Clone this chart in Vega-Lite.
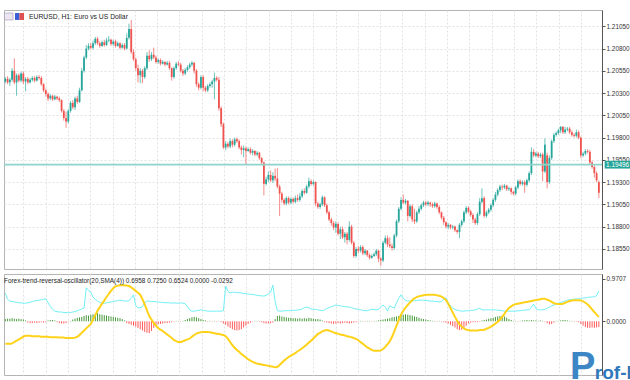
{
"$schema":"https://vega.github.io/schema/vega-lite/v6.json",
"padding":{"left":0,"top":9,"right":0,"bottom":0},
"background":"white",
"spacing":3,
"config":{"view":{"stroke":"#b4b4b4","strokeWidth":1},"axis":{"labelFont":"Liberation Sans","labelFontSize":6.4,"labelColor":"#333","gridColor":"#e2e2e2","gridDash":[2,2],"tickColor":"#555","domainColor":"#555","tickSize":3,"labelPadding":1,"labelOverlap":false,"labelFlush":false,"labelBound":false}},
"data":{"values":[
{"i":0,"o":1.2043,"h":1.2048,"l":1.2041,"c":1.2046,"a":0.64,"b":-0.51,"d":0.05},
{"i":1,"o":1.2046,"h":1.2049,"l":1.2040,"c":1.2042,"a":0.50,"b":-0.51,"d":0.06},
{"i":2,"o":1.2042,"h":1.2047,"l":1.2038,"c":1.2045,"a":0.46,"b":-0.51,"d":0.06},
{"i":3,"o":1.2045,"h":1.2058,"l":1.2043,"c":1.2055,"a":0.45,"b":-0.50,"d":0.07},
{"i":4,"o":1.2055,"h":1.2069,"l":1.2040,"c":1.2042,"a":0.44,"b":-0.47,"d":0.06},
{"i":5,"o":1.2042,"h":1.2052,"l":1.2027,"c":1.2050,"a":0.43,"b":-0.44,"d":0.05},
{"i":6,"o":1.2050,"h":1.2052,"l":1.2042,"c":1.2044,"a":0.42,"b":-0.41,"d":0.06},
{"i":7,"o":1.2044,"h":1.2054,"l":1.2042,"c":1.2052,"a":0.42,"b":-0.38,"d":0.05},
{"i":8,"o":1.2052,"h":1.2054,"l":1.2040,"c":1.2043,"a":0.41,"b":-0.35,"d":0.04},
{"i":9,"o":1.2043,"h":1.2048,"l":1.2032,"c":1.2046,"a":0.41,"b":-0.33,"d":0.02},
{"i":10,"o":1.2046,"h":1.2048,"l":1.2040,"c":1.2042,"a":0.42,"b":-0.33,"d":-0.03},
{"i":11,"o":1.2042,"h":1.2047,"l":1.2041,"c":1.2045,"a":0.43,"b":-0.33,"d":-0.04},
{"i":12,"o":1.2045,"h":1.2049,"l":1.2043,"c":1.2047,"a":0.45,"b":-0.34,"d":-0.04},
{"i":13,"o":1.2047,"h":1.2049,"l":1.2042,"c":1.2044,"a":0.46,"b":-0.34,"d":-0.03},
{"i":14,"o":1.2044,"h":1.2050,"l":1.2043,"c":1.2048,"a":0.47,"b":-0.34,"d":-0.04},
{"i":15,"o":1.2048,"h":1.2050,"l":1.2045,"c":1.2047,"a":0.48,"b":-0.34,"d":-0.03},
{"i":16,"o":1.2047,"h":1.2049,"l":1.2038,"c":1.2040,"a":0.49,"b":-0.35,"d":-0.02},
{"i":17,"o":1.2040,"h":1.2041,"l":1.2031,"c":1.2033,"a":0.50,"b":-0.35,"d":-0.03},
{"i":18,"o":1.2033,"h":1.2035,"l":1.2026,"c":1.2029,"a":0.51,"b":-0.35,"d":-0.02},
{"i":19,"o":1.2029,"h":1.2031,"l":1.2021,"c":1.2024,"a":0.42,"b":-0.35,"d":0.02},
{"i":20,"o":1.2024,"h":1.2029,"l":1.2022,"c":1.2027,"a":0.34,"b":-0.36,"d":0.03},
{"i":21,"o":1.2027,"h":1.2028,"l":1.2021,"c":1.2023,"a":0.27,"b":-0.36,"d":0.03},
{"i":22,"o":1.2023,"h":1.2028,"l":1.2022,"c":1.2026,"a":0.23,"b":-0.36,"d":0.02},
{"i":23,"o":1.2026,"h":1.2027,"l":1.2022,"c":1.2024,"a":0.22,"b":-0.36,"d":-0.02},
{"i":24,"o":1.2024,"h":1.2026,"l":1.2020,"c":1.2022,"a":0.21,"b":-0.37,"d":-0.04},
{"i":25,"o":1.2022,"h":1.2023,"l":1.2008,"c":1.2010,"a":0.21,"b":-0.37,"d":-0.05},
{"i":26,"o":1.2010,"h":1.2012,"l":1.1999,"c":1.2002,"a":0.20,"b":-0.37,"d":-0.05},
{"i":27,"o":1.2002,"h":1.2009,"l":1.1991,"c":1.1998,"a":0.20,"b":-0.38,"d":-0.04},
{"i":28,"o":1.1998,"h":1.2012,"l":1.1996,"c":1.2010,"a":0.19,"b":-0.38,"d":-0.01},
{"i":29,"o":1.2010,"h":1.2021,"l":1.2008,"c":1.2019,"a":0.20,"b":-0.38,"d":0.01},
{"i":30,"o":1.2019,"h":1.2022,"l":1.2012,"c":1.2014,"a":0.21,"b":-0.38,"d":0.04},
{"i":31,"o":1.2014,"h":1.2026,"l":1.2011,"c":1.2024,"a":0.22,"b":-0.37,"d":0.06},
{"i":32,"o":1.2024,"h":1.2027,"l":1.2018,"c":1.2020,"a":0.24,"b":-0.35,"d":0.08},
{"i":33,"o":1.2020,"h":1.2036,"l":1.2019,"c":1.2033,"a":0.26,"b":-0.31,"d":0.09},
{"i":34,"o":1.2033,"h":1.2058,"l":1.2032,"c":1.2055,"a":0.28,"b":-0.26,"d":0.10},
{"i":35,"o":1.2055,"h":1.2072,"l":1.2053,"c":1.2070,"a":0.30,"b":-0.21,"d":0.12},
{"i":36,"o":1.2070,"h":1.2084,"l":1.2068,"c":1.2080,"a":0.76,"b":-0.16,"d":0.14},
{"i":37,"o":1.2080,"h":1.2086,"l":1.2078,"c":1.2083,"a":0.70,"b":-0.11,"d":0.13},
{"i":38,"o":1.2083,"h":1.2086,"l":1.2079,"c":1.2081,"a":0.66,"b":-0.06,"d":0.15},
{"i":39,"o":1.2081,"h":1.2089,"l":1.2079,"c":1.2086,"a":0.55,"b":0.04,"d":0.16},
{"i":40,"o":1.2086,"h":1.2093,"l":1.2084,"c":1.2091,"a":0.50,"b":0.14,"d":0.17},
{"i":41,"o":1.2091,"h":1.2093,"l":1.2084,"c":1.2086,"a":0.46,"b":0.24,"d":0.18},
{"i":42,"o":1.2086,"h":1.2088,"l":1.2081,"c":1.2083,"a":0.43,"b":0.32,"d":0.16},
{"i":43,"o":1.2083,"h":1.2089,"l":1.2082,"c":1.2087,"a":0.41,"b":0.40,"d":0.15},
{"i":44,"o":1.2087,"h":1.2090,"l":1.2082,"c":1.2084,"a":0.41,"b":0.47,"d":0.14},
{"i":45,"o":1.2084,"h":1.2092,"l":1.2083,"c":1.2089,"a":0.42,"b":0.55,"d":0.13},
{"i":46,"o":1.2089,"h":1.2094,"l":1.2087,"c":1.2090,"a":0.43,"b":0.62,"d":0.12},
{"i":47,"o":1.2090,"h":1.2091,"l":1.2083,"c":1.2085,"a":0.44,"b":0.69,"d":0.11},
{"i":48,"o":1.2085,"h":1.2090,"l":1.2083,"c":1.2088,"a":0.45,"b":0.75,"d":0.10},
{"i":49,"o":1.2088,"h":1.2090,"l":1.2081,"c":1.2083,"a":0.46,"b":0.79,"d":0.09},
{"i":50,"o":1.2083,"h":1.2088,"l":1.2082,"c":1.2086,"a":0.47,"b":0.81,"d":0.08},
{"i":51,"o":1.2086,"h":1.2087,"l":1.2079,"c":1.2081,"a":0.48,"b":0.82,"d":0.07},
{"i":52,"o":1.2081,"h":1.2086,"l":1.2080,"c":1.2084,"a":0.47,"b":0.82,"d":0.05},
{"i":53,"o":1.2084,"h":1.2086,"l":1.2078,"c":1.2080,"a":0.46,"b":0.82,"d":0.02},
{"i":54,"o":1.2080,"h":1.2097,"l":1.2079,"c":1.2092,"a":0.46,"b":0.81,"d":-0.04},
{"i":55,"o":1.2092,"h":1.2108,"l":1.2090,"c":1.2102,"a":0.47,"b":0.80,"d":-0.06},
{"i":56,"o":1.2102,"h":1.2112,"l":1.2074,"c":1.2076,"a":0.52,"b":0.77,"d":-0.08},
{"i":57,"o":1.2076,"h":1.2079,"l":1.2066,"c":1.2068,"a":0.60,"b":0.73,"d":-0.10},
{"i":58,"o":1.2068,"h":1.2070,"l":1.2055,"c":1.2058,"a":0.36,"b":0.69,"d":-0.12},
{"i":59,"o":1.2058,"h":1.2062,"l":1.2042,"c":1.2050,"a":0.30,"b":0.65,"d":-0.15},
{"i":60,"o":1.2050,"h":1.2058,"l":1.2041,"c":1.2055,"a":0.31,"b":0.60,"d":-0.18},
{"i":61,"o":1.2055,"h":1.2057,"l":1.2041,"c":1.2048,"a":0.33,"b":0.50,"d":-0.21},
{"i":62,"o":1.2048,"h":1.2060,"l":1.2046,"c":1.2058,"a":0.42,"b":0.38,"d":-0.24},
{"i":63,"o":1.2058,"h":1.2076,"l":1.2056,"c":1.2072,"a":0.46,"b":0.25,"d":-0.26},
{"i":64,"o":1.2072,"h":1.2078,"l":1.2065,"c":1.2068,"a":0.46,"b":0.12,"d":-0.27},
{"i":65,"o":1.2068,"h":1.2076,"l":1.2066,"c":1.2073,"a":0.45,"b":0.04,"d":-0.22},
{"i":66,"o":1.2073,"h":1.2081,"l":1.2068,"c":1.2070,"a":0.45,"b":-0.04,"d":-0.15},
{"i":67,"o":1.2070,"h":1.2072,"l":1.2063,"c":1.2065,"a":0.44,"b":-0.10,"d":-0.10},
{"i":68,"o":1.2065,"h":1.2069,"l":1.2063,"c":1.2067,"a":0.44,"b":-0.15,"d":-0.07},
{"i":69,"o":1.2067,"h":1.2069,"l":1.2061,"c":1.2063,"a":0.43,"b":-0.19,"d":-0.06},
{"i":70,"o":1.2063,"h":1.2067,"l":1.2062,"c":1.2065,"a":0.43,"b":-0.22,"d":-0.05},
{"i":71,"o":1.2065,"h":1.2066,"l":1.2060,"c":1.2062,"a":0.42,"b":-0.26,"d":-0.04},
{"i":72,"o":1.2062,"h":1.2066,"l":1.2061,"c":1.2064,"a":0.42,"b":-0.30,"d":-0.04},
{"i":73,"o":1.2064,"h":1.2066,"l":1.2056,"c":1.2058,"a":0.42,"b":-0.34,"d":-0.03},
{"i":74,"o":1.2058,"h":1.2059,"l":1.2044,"c":1.2048,"a":0.41,"b":-0.38,"d":-0.02},
{"i":75,"o":1.2048,"h":1.2060,"l":1.2046,"c":1.2058,"a":0.42,"b":-0.42,"d":-0.01},
{"i":76,"o":1.2058,"h":1.2065,"l":1.2056,"c":1.2063,"a":0.41,"b":-0.45,"d":0.01},
{"i":77,"o":1.2063,"h":1.2066,"l":1.2060,"c":1.2062,"a":0.41,"b":-0.47,"d":0.01},
{"i":78,"o":1.2062,"h":1.2064,"l":1.2053,"c":1.2055,"a":0.42,"b":-0.47,"d":-0.01},
{"i":79,"o":1.2055,"h":1.2057,"l":1.2049,"c":1.2052,"a":0.41,"b":-0.45,"d":0.01},
{"i":80,"o":1.2052,"h":1.2058,"l":1.2050,"c":1.2056,"a":0.40,"b":-0.43,"d":0.03},
{"i":81,"o":1.2056,"h":1.2061,"l":1.2054,"c":1.2059,"a":0.33,"b":-0.41,"d":0.05},
{"i":82,"o":1.2059,"h":1.2064,"l":1.2057,"c":1.2062,"a":0.26,"b":-0.39,"d":0.07},
{"i":83,"o":1.2062,"h":1.2066,"l":1.2060,"c":1.2064,"a":0.23,"b":-0.35,"d":0.09},
{"i":84,"o":1.2064,"h":1.2065,"l":1.2052,"c":1.2055,"a":0.23,"b":-0.31,"d":0.10},
{"i":85,"o":1.2055,"h":1.2057,"l":1.2037,"c":1.2040,"a":0.24,"b":-0.28,"d":0.09},
{"i":86,"o":1.2040,"h":1.2042,"l":1.2033,"c":1.2036,"a":0.25,"b":-0.26,"d":0.07},
{"i":87,"o":1.2036,"h":1.2050,"l":1.2034,"c":1.2048,"a":0.26,"b":-0.25,"d":0.05},
{"i":88,"o":1.2048,"h":1.2050,"l":1.2032,"c":1.2036,"a":0.25,"b":-0.24,"d":0.03},
{"i":89,"o":1.2036,"h":1.2038,"l":1.2031,"c":1.2033,"a":0.24,"b":-0.24,"d":0.02},
{"i":90,"o":1.2033,"h":1.2040,"l":1.2031,"c":1.2038,"a":0.23,"b":-0.24,"d":-0.01},
{"i":91,"o":1.2038,"h":1.2042,"l":1.2036,"c":1.2040,"a":0.23,"b":-0.25,"d":0.01},
{"i":92,"o":1.2040,"h":1.2045,"l":1.2036,"c":1.2043,"a":0.23,"b":-0.26,"d":-0.01},
{"i":93,"o":1.2043,"h":1.2053,"l":1.2023,"c":1.2047,"a":0.23,"b":-0.27,"d":0.01},
{"i":94,"o":1.2047,"h":1.2049,"l":1.2043,"c":1.2045,"a":0.23,"b":-0.28,"d":-0.01},
{"i":95,"o":1.2045,"h":1.2048,"l":1.2010,"c":1.2013,"a":0.23,"b":-0.29,"d":0.01},
{"i":96,"o":1.2013,"h":1.2015,"l":1.1992,"c":1.1995,"a":0.23,"b":-0.30,"d":-0.02},
{"i":97,"o":1.1995,"h":1.1997,"l":1.1967,"c":1.1969,"a":0.24,"b":-0.31,"d":-0.05},
{"i":98,"o":1.1969,"h":1.1976,"l":1.1966,"c":1.1973,"a":0.80,"b":-0.34,"d":-0.08},
{"i":99,"o":1.1973,"h":1.1975,"l":1.1968,"c":1.1970,"a":0.68,"b":-0.40,"d":-0.12},
{"i":100,"o":1.1970,"h":1.1979,"l":1.1968,"c":1.1976,"a":0.64,"b":-0.47,"d":-0.15},
{"i":101,"o":1.1976,"h":1.1978,"l":1.1969,"c":1.1972,"a":0.66,"b":-0.54,"d":-0.18},
{"i":102,"o":1.1972,"h":1.1980,"l":1.1970,"c":1.1978,"a":0.66,"b":-0.60,"d":-0.20},
{"i":103,"o":1.1978,"h":1.1980,"l":1.1974,"c":1.1976,"a":0.65,"b":-0.65,"d":-0.21},
{"i":104,"o":1.1976,"h":1.1978,"l":1.1967,"c":1.1969,"a":0.65,"b":-0.69,"d":-0.20},
{"i":105,"o":1.1969,"h":1.1971,"l":1.1961,"c":1.1966,"a":0.64,"b":-0.74,"d":-0.18},
{"i":106,"o":1.1966,"h":1.1971,"l":1.1958,"c":1.1968,"a":0.63,"b":-0.78,"d":-0.14},
{"i":107,"o":1.1968,"h":1.1970,"l":1.1950,"c":1.1965,"a":0.63,"b":-0.82,"d":-0.10},
{"i":108,"o":1.1965,"h":1.1969,"l":1.1964,"c":1.1967,"a":0.62,"b":-0.86,"d":-0.06},
{"i":109,"o":1.1967,"h":1.1969,"l":1.1961,"c":1.1963,"a":0.61,"b":-0.89,"d":-0.03},
{"i":110,"o":1.1963,"h":1.1967,"l":1.1960,"c":1.1965,"a":0.61,"b":-0.92,"d":-0.01},
{"i":111,"o":1.1965,"h":1.1966,"l":1.1959,"c":1.1961,"a":0.60,"b":-0.94,"d":0.01},
{"i":112,"o":1.1961,"h":1.1965,"l":1.1959,"c":1.1963,"a":0.59,"b":-0.96,"d":0.01},
{"i":113,"o":1.1963,"h":1.1964,"l":1.1955,"c":1.1957,"a":0.58,"b":-0.97,"d":-0.01},
{"i":114,"o":1.1957,"h":1.1958,"l":1.1950,"c":1.1952,"a":0.58,"b":-0.98,"d":-0.02},
{"i":115,"o":1.1952,"h":1.1953,"l":1.1915,"c":1.1928,"a":0.57,"b":-0.99,"d":-0.04},
{"i":116,"o":1.1928,"h":1.1936,"l":1.1926,"c":1.1933,"a":0.59,"b":-1.00,"d":-0.05},
{"i":117,"o":1.1933,"h":1.1942,"l":1.1930,"c":1.1938,"a":0.62,"b":-1.01,"d":-0.05},
{"i":118,"o":1.1938,"h":1.1943,"l":1.1930,"c":1.1932,"a":0.66,"b":-1.02,"d":-0.04},
{"i":119,"o":1.1932,"h":1.1941,"l":1.1929,"c":1.1937,"a":0.82,"b":-1.03,"d":-0.03},
{"i":120,"o":1.1937,"h":1.1945,"l":1.1931,"c":1.1934,"a":0.45,"b":-1.04,"d":0.05},
{"i":121,"o":1.1934,"h":1.1946,"l":1.1923,"c":1.1925,"a":0.24,"b":-1.03,"d":0.12},
{"i":122,"o":1.1925,"h":1.1927,"l":1.1892,"c":1.1917,"a":0.23,"b":-0.99,"d":0.13},
{"i":123,"o":1.1917,"h":1.1919,"l":1.1907,"c":1.1910,"a":0.23,"b":-0.94,"d":0.11},
{"i":124,"o":1.1910,"h":1.1912,"l":1.1904,"c":1.1906,"a":0.24,"b":-0.89,"d":0.10},
{"i":125,"o":1.1906,"h":1.1914,"l":1.1904,"c":1.1912,"a":0.24,"b":-0.85,"d":0.09},
{"i":126,"o":1.1912,"h":1.1914,"l":1.1905,"c":1.1907,"a":0.24,"b":-0.81,"d":0.08},
{"i":127,"o":1.1907,"h":1.1913,"l":1.1905,"c":1.1911,"a":0.25,"b":-0.78,"d":0.08},
{"i":128,"o":1.1911,"h":1.1913,"l":1.1906,"c":1.1908,"a":0.25,"b":-0.75,"d":0.07},
{"i":129,"o":1.1908,"h":1.1915,"l":1.1906,"c":1.1912,"a":0.25,"b":-0.72,"d":0.07},
{"i":130,"o":1.1912,"h":1.1916,"l":1.1908,"c":1.1910,"a":0.26,"b":-0.68,"d":0.06},
{"i":131,"o":1.1910,"h":1.1918,"l":1.1908,"c":1.1914,"a":0.26,"b":-0.65,"d":0.07},
{"i":132,"o":1.1914,"h":1.1922,"l":1.1912,"c":1.1920,"a":0.28,"b":-0.61,"d":0.06},
{"i":133,"o":1.1920,"h":1.1923,"l":1.1916,"c":1.1918,"a":0.31,"b":-0.57,"d":0.07},
{"i":134,"o":1.1918,"h":1.1927,"l":1.1917,"c":1.1925,"a":0.32,"b":-0.53,"d":0.06},
{"i":135,"o":1.1925,"h":1.1935,"l":1.1923,"c":1.1931,"a":0.31,"b":-0.48,"d":0.08},
{"i":136,"o":1.1931,"h":1.1933,"l":1.1926,"c":1.1928,"a":0.28,"b":-0.44,"d":0.07},
{"i":137,"o":1.1928,"h":1.1932,"l":1.1926,"c":1.1930,"a":0.27,"b":-0.39,"d":0.06},
{"i":138,"o":1.1930,"h":1.1931,"l":1.1903,"c":1.1906,"a":0.27,"b":-0.34,"d":0.05},
{"i":139,"o":1.1906,"h":1.1908,"l":1.1900,"c":1.1902,"a":0.26,"b":-0.29,"d":0.05},
{"i":140,"o":1.1902,"h":1.1907,"l":1.1900,"c":1.1905,"a":0.25,"b":-0.26,"d":0.04},
{"i":141,"o":1.1905,"h":1.1915,"l":1.1903,"c":1.1913,"a":0.24,"b":-0.23,"d":0.02},
{"i":142,"o":1.1913,"h":1.1914,"l":1.1902,"c":1.1904,"a":0.26,"b":-0.21,"d":-0.02},
{"i":143,"o":1.1904,"h":1.1906,"l":1.1894,"c":1.1896,"a":0.29,"b":-0.20,"d":-0.03},
{"i":144,"o":1.1896,"h":1.1898,"l":1.1886,"c":1.1888,"a":0.31,"b":-0.21,"d":-0.04},
{"i":145,"o":1.1888,"h":1.1890,"l":1.1881,"c":1.1884,"a":0.33,"b":-0.23,"d":-0.05},
{"i":146,"o":1.1884,"h":1.1886,"l":1.1876,"c":1.1879,"a":0.35,"b":-0.25,"d":-0.06},
{"i":147,"o":1.1879,"h":1.1886,"l":1.1873,"c":1.1883,"a":0.37,"b":-0.27,"d":-0.05},
{"i":148,"o":1.1883,"h":1.1885,"l":1.1870,"c":1.1872,"a":0.36,"b":-0.28,"d":-0.04},
{"i":149,"o":1.1872,"h":1.1880,"l":1.1866,"c":1.1877,"a":0.35,"b":-0.30,"d":-0.05},
{"i":150,"o":1.1877,"h":1.1880,"l":1.1866,"c":1.1868,"a":0.34,"b":-0.31,"d":-0.04},
{"i":151,"o":1.1868,"h":1.1874,"l":1.1862,"c":1.1872,"a":0.33,"b":-0.32,"d":-0.03},
{"i":152,"o":1.1872,"h":1.1874,"l":1.1860,"c":1.1865,"a":0.33,"b":-0.34,"d":-0.04},
{"i":153,"o":1.1865,"h":1.1886,"l":1.1863,"c":1.1880,"a":0.32,"b":-0.35,"d":-0.05},
{"i":154,"o":1.1880,"h":1.1882,"l":1.1860,"c":1.1862,"a":0.31,"b":-0.36,"d":-0.04},
{"i":155,"o":1.1862,"h":1.1864,"l":1.1845,"c":1.1847,"a":0.29,"b":-0.38,"d":-0.03},
{"i":156,"o":1.1847,"h":1.1857,"l":1.1845,"c":1.1855,"a":0.28,"b":-0.40,"d":-0.02},
{"i":157,"o":1.1855,"h":1.1858,"l":1.1850,"c":1.1853,"a":0.27,"b":-0.43,"d":-0.01},
{"i":158,"o":1.1853,"h":1.1859,"l":1.1851,"c":1.1857,"a":0.26,"b":-0.47,"d":0.01},
{"i":159,"o":1.1857,"h":1.1859,"l":1.1848,"c":1.1850,"a":0.25,"b":-0.51,"d":0.01},
{"i":160,"o":1.1850,"h":1.1855,"l":1.1848,"c":1.1853,"a":0.24,"b":-0.55,"d":-0.01},
{"i":161,"o":1.1853,"h":1.1854,"l":1.1846,"c":1.1848,"a":0.24,"b":-0.59,"d":0.01},
{"i":162,"o":1.1848,"h":1.1850,"l":1.1843,"c":1.1845,"a":0.26,"b":-0.62,"d":0.01},
{"i":163,"o":1.1845,"h":1.1849,"l":1.1844,"c":1.1847,"a":0.27,"b":-0.65,"d":-0.01},
{"i":164,"o":1.1847,"h":1.1851,"l":1.1846,"c":1.1849,"a":0.27,"b":-0.67,"d":0.01},
{"i":165,"o":1.1849,"h":1.1855,"l":1.1847,"c":1.1853,"a":0.26,"b":-0.67,"d":0.01},
{"i":166,"o":1.1853,"h":1.1854,"l":1.1840,"c":1.1844,"a":0.27,"b":-0.67,"d":0.02},
{"i":167,"o":1.1844,"h":1.1846,"l":1.1836,"c":1.1842,"a":0.33,"b":-0.66,"d":0.03},
{"i":168,"o":1.1842,"h":1.1864,"l":1.1840,"c":1.1862,"a":0.37,"b":-0.63,"d":0.04},
{"i":169,"o":1.1862,"h":1.1870,"l":1.1860,"c":1.1867,"a":0.32,"b":-0.58,"d":0.05},
{"i":170,"o":1.1867,"h":1.1870,"l":1.1857,"c":1.1860,"a":0.23,"b":-0.52,"d":0.06},
{"i":171,"o":1.1860,"h":1.1868,"l":1.1856,"c":1.1858,"a":0.35,"b":-0.45,"d":0.07},
{"i":172,"o":1.1858,"h":1.1861,"l":1.1853,"c":1.1856,"a":0.32,"b":-0.35,"d":0.09},
{"i":173,"o":1.1856,"h":1.1872,"l":1.1854,"c":1.1870,"a":0.30,"b":-0.23,"d":0.10},
{"i":174,"o":1.1870,"h":1.1888,"l":1.1868,"c":1.1886,"a":0.42,"b":-0.10,"d":0.11},
{"i":175,"o":1.1886,"h":1.1902,"l":1.1884,"c":1.1900,"a":0.52,"b":0.03,"d":0.12},
{"i":176,"o":1.1900,"h":1.1913,"l":1.1898,"c":1.1910,"a":0.60,"b":0.15,"d":0.14},
{"i":177,"o":1.1910,"h":1.1916,"l":1.1905,"c":1.1907,"a":0.52,"b":0.24,"d":0.15},
{"i":178,"o":1.1907,"h":1.1911,"l":1.1905,"c":1.1909,"a":0.48,"b":0.31,"d":0.16},
{"i":179,"o":1.1909,"h":1.1910,"l":1.1886,"c":1.1892,"a":0.46,"b":0.37,"d":0.15},
{"i":180,"o":1.1892,"h":1.1905,"l":1.1890,"c":1.1903,"a":0.46,"b":0.43,"d":0.14},
{"i":181,"o":1.1903,"h":1.1905,"l":1.1885,"c":1.1888,"a":0.46,"b":0.48,"d":0.13},
{"i":182,"o":1.1888,"h":1.1900,"l":1.1883,"c":1.1886,"a":0.47,"b":0.52,"d":0.11},
{"i":183,"o":1.1886,"h":1.1898,"l":1.1884,"c":1.1896,"a":0.47,"b":0.55,"d":0.10},
{"i":184,"o":1.1896,"h":1.1903,"l":1.1894,"c":1.1900,"a":0.48,"b":0.57,"d":0.08},
{"i":185,"o":1.1900,"h":1.1906,"l":1.1898,"c":1.1904,"a":0.48,"b":0.58,"d":0.06},
{"i":186,"o":1.1904,"h":1.1909,"l":1.1902,"c":1.1907,"a":0.48,"b":0.59,"d":0.05},
{"i":187,"o":1.1907,"h":1.1909,"l":1.1903,"c":1.1905,"a":0.47,"b":0.60,"d":0.04},
{"i":188,"o":1.1905,"h":1.1909,"l":1.1903,"c":1.1907,"a":0.47,"b":0.60,"d":0.03},
{"i":189,"o":1.1907,"h":1.1908,"l":1.1902,"c":1.1905,"a":0.46,"b":0.60,"d":0.02},
{"i":190,"o":1.1905,"h":1.1907,"l":1.1901,"c":1.1903,"a":0.46,"b":0.60,"d":0.01},
{"i":191,"o":1.1903,"h":1.1908,"l":1.1901,"c":1.1906,"a":0.45,"b":0.60,"d":0.01},
{"i":192,"o":1.1906,"h":1.1907,"l":1.1900,"c":1.1902,"a":0.45,"b":0.59,"d":-0.01},
{"i":193,"o":1.1902,"h":1.1904,"l":1.1894,"c":1.1896,"a":0.44,"b":0.58,"d":0.01},
{"i":194,"o":1.1896,"h":1.1897,"l":1.1888,"c":1.1890,"a":0.45,"b":0.56,"d":-0.01},
{"i":195,"o":1.1890,"h":1.1892,"l":1.1882,"c":1.1885,"a":0.50,"b":0.53,"d":-0.02},
{"i":196,"o":1.1885,"h":1.1886,"l":1.1878,"c":1.1880,"a":0.53,"b":0.48,"d":-0.03},
{"i":197,"o":1.1880,"h":1.1884,"l":1.1877,"c":1.1882,"a":0.42,"b":0.40,"d":-0.05},
{"i":198,"o":1.1882,"h":1.1883,"l":1.1877,"c":1.1879,"a":0.35,"b":0.30,"d":-0.08},
{"i":199,"o":1.1879,"h":1.1882,"l":1.1877,"c":1.1880,"a":0.30,"b":0.20,"d":-0.11},
{"i":200,"o":1.1880,"h":1.1881,"l":1.1874,"c":1.1876,"a":0.27,"b":0.10,"d":-0.14},
{"i":201,"o":1.1876,"h":1.1877,"l":1.1872,"c":1.1874,"a":0.25,"b":0.01,"d":-0.18},
{"i":202,"o":1.1874,"h":1.1884,"l":1.1867,"c":1.1882,"a":0.24,"b":-0.07,"d":-0.20},
{"i":203,"o":1.1882,"h":1.1888,"l":1.1880,"c":1.1886,"a":0.23,"b":-0.12,"d":-0.19},
{"i":204,"o":1.1886,"h":1.1898,"l":1.1884,"c":1.1896,"a":0.23,"b":-0.16,"d":-0.15},
{"i":205,"o":1.1896,"h":1.1903,"l":1.1894,"c":1.1901,"a":0.24,"b":-0.19,"d":-0.10},
{"i":206,"o":1.1901,"h":1.1903,"l":1.1895,"c":1.1897,"a":0.24,"b":-0.20,"d":-0.05},
{"i":207,"o":1.1897,"h":1.1899,"l":1.1891,"c":1.1893,"a":0.25,"b":-0.21,"d":-0.03},
{"i":208,"o":1.1893,"h":1.1895,"l":1.1884,"c":1.1888,"a":0.25,"b":-0.21,"d":-0.02},
{"i":209,"o":1.1888,"h":1.1890,"l":1.1882,"c":1.1884,"a":0.26,"b":-0.21,"d":-0.02},
{"i":210,"o":1.1884,"h":1.1896,"l":1.1882,"c":1.1894,"a":0.28,"b":-0.21,"d":-0.02},
{"i":211,"o":1.1894,"h":1.1912,"l":1.1892,"c":1.1908,"a":0.30,"b":-0.20,"d":-0.01},
{"i":212,"o":1.1908,"h":1.1923,"l":1.1906,"c":1.1912,"a":0.26,"b":-0.20,"d":0.02},
{"i":213,"o":1.1912,"h":1.1914,"l":1.1890,"c":1.1892,"a":0.26,"b":-0.19,"d":0.03},
{"i":214,"o":1.1892,"h":1.1898,"l":1.1890,"c":1.1896,"a":0.26,"b":-0.17,"d":0.04},
{"i":215,"o":1.1896,"h":1.1901,"l":1.1894,"c":1.1899,"a":0.26,"b":-0.15,"d":0.06},
{"i":216,"o":1.1899,"h":1.1906,"l":1.1897,"c":1.1904,"a":0.26,"b":-0.12,"d":0.07},
{"i":217,"o":1.1904,"h":1.1912,"l":1.1902,"c":1.1910,"a":0.26,"b":-0.09,"d":0.08},
{"i":218,"o":1.1910,"h":1.1919,"l":1.1908,"c":1.1916,"a":0.26,"b":-0.05,"d":0.10},
{"i":219,"o":1.1916,"h":1.1923,"l":1.1914,"c":1.1921,"a":0.25,"b":-0.01,"d":0.11},
{"i":220,"o":1.1921,"h":1.1927,"l":1.1919,"c":1.1925,"a":0.25,"b":0.04,"d":0.12},
{"i":221,"o":1.1925,"h":1.1927,"l":1.1921,"c":1.1924,"a":0.24,"b":0.10,"d":0.13},
{"i":222,"o":1.1924,"h":1.1928,"l":1.1922,"c":1.1926,"a":0.23,"b":0.17,"d":0.11},
{"i":223,"o":1.1926,"h":1.1927,"l":1.1920,"c":1.1922,"a":0.23,"b":0.24,"d":0.08},
{"i":224,"o":1.1922,"h":1.1925,"l":1.1920,"c":1.1923,"a":0.23,"b":0.30,"d":0.05},
{"i":225,"o":1.1923,"h":1.1924,"l":1.1916,"c":1.1919,"a":0.23,"b":0.34,"d":0.03},
{"i":226,"o":1.1919,"h":1.1920,"l":1.1915,"c":1.1917,"a":0.23,"b":0.37,"d":0.01},
{"i":227,"o":1.1917,"h":1.1926,"l":1.1915,"c":1.1924,"a":0.23,"b":0.39,"d":0.01},
{"i":228,"o":1.1924,"h":1.1933,"l":1.1922,"c":1.1931,"a":0.24,"b":0.40,"d":-0.01},
{"i":229,"o":1.1931,"h":1.1933,"l":1.1926,"c":1.1928,"a":0.24,"b":0.41,"d":0.01},
{"i":230,"o":1.1928,"h":1.1932,"l":1.1926,"c":1.1930,"a":0.25,"b":0.42,"d":0.02},
{"i":231,"o":1.1930,"h":1.1932,"l":1.1918,"c":1.1927,"a":0.25,"b":0.43,"d":0.02},
{"i":232,"o":1.1927,"h":1.1934,"l":1.1925,"c":1.1932,"a":0.26,"b":0.44,"d":0.03},
{"i":233,"o":1.1932,"h":1.1942,"l":1.1930,"c":1.1940,"a":0.26,"b":0.45,"d":0.02},
{"i":234,"o":1.1940,"h":1.1969,"l":1.1938,"c":1.1964,"a":0.32,"b":0.46,"d":0.03},
{"i":235,"o":1.1964,"h":1.1967,"l":1.1958,"c":1.1960,"a":0.39,"b":0.47,"d":0.02},
{"i":236,"o":1.1960,"h":1.1964,"l":1.1958,"c":1.1962,"a":0.29,"b":0.48,"d":0.02},
{"i":237,"o":1.1962,"h":1.1964,"l":1.1957,"c":1.1959,"a":0.26,"b":0.49,"d":0.01},
{"i":238,"o":1.1959,"h":1.1963,"l":1.1957,"c":1.1961,"a":0.26,"b":0.50,"d":0.02},
{"i":239,"o":1.1961,"h":1.1963,"l":1.1931,"c":1.1942,"a":0.26,"b":0.51,"d":0.01},
{"i":240,"o":1.1942,"h":1.1979,"l":1.1940,"c":1.1972,"a":0.27,"b":0.51,"d":-0.01},
{"i":241,"o":1.1960,"h":1.1963,"l":1.1923,"c":1.1930,"a":0.30,"b":0.49,"d":-0.04},
{"i":242,"o":1.1930,"h":1.1960,"l":1.1928,"c":1.1957,"a":0.32,"b":0.47,"d":-0.07},
{"i":243,"o":1.1957,"h":1.1978,"l":1.1955,"c":1.1976,"a":0.35,"b":0.44,"d":-0.06},
{"i":244,"o":1.1976,"h":1.1985,"l":1.1974,"c":1.1983,"a":0.37,"b":0.41,"d":-0.03},
{"i":245,"o":1.1983,"h":1.1987,"l":1.1981,"c":1.1985,"a":0.39,"b":0.40,"d":0.01},
{"i":246,"o":1.1985,"h":1.1990,"l":1.1983,"c":1.1988,"a":0.41,"b":0.39,"d":0.01},
{"i":247,"o":1.1988,"h":1.1993,"l":1.1985,"c":1.1992,"a":0.43,"b":0.39,"d":0.02},
{"i":248,"o":1.1992,"h":1.1993,"l":1.1984,"c":1.1986,"a":0.44,"b":0.40,"d":0.03},
{"i":249,"o":1.1986,"h":1.1992,"l":1.1984,"c":1.1989,"a":0.46,"b":0.42,"d":0.03},
{"i":250,"o":1.1989,"h":1.1992,"l":1.1987,"c":1.1990,"a":0.48,"b":0.44,"d":0.02},
{"i":251,"o":1.1990,"h":1.1992,"l":1.1984,"c":1.1986,"a":0.49,"b":0.46,"d":0.01},
{"i":252,"o":1.1986,"h":1.1988,"l":1.1981,"c":1.1983,"a":0.49,"b":0.47,"d":0.01},
{"i":253,"o":1.1983,"h":1.1985,"l":1.1980,"c":1.1982,"a":0.50,"b":0.48,"d":-0.01},
{"i":254,"o":1.1982,"h":1.1989,"l":1.1980,"c":1.1986,"a":0.51,"b":0.48,"d":-0.01},
{"i":255,"o":1.1986,"h":1.1988,"l":1.1978,"c":1.1980,"a":0.51,"b":0.48,"d":-0.02},
{"i":256,"o":1.1980,"h":1.1981,"l":1.1957,"c":1.1960,"a":0.52,"b":0.47,"d":-0.06},
{"i":257,"o":1.1960,"h":1.1964,"l":1.1958,"c":1.1962,"a":0.53,"b":0.45,"d":-0.10},
{"i":258,"o":1.1962,"h":1.1967,"l":1.1960,"c":1.1965,"a":0.53,"b":0.42,"d":-0.13},
{"i":259,"o":1.1965,"h":1.1967,"l":1.1962,"c":1.1964,"a":0.54,"b":0.38,"d":-0.15},
{"i":260,"o":1.1964,"h":1.1966,"l":1.1950,"c":1.1952,"a":0.55,"b":0.33,"d":-0.15},
{"i":261,"o":1.1952,"h":1.1954,"l":1.1945,"c":1.1947,"a":0.55,"b":0.27,"d":-0.14},
{"i":262,"o":1.1947,"h":1.1949,"l":1.1935,"c":1.1940,"a":0.56,"b":0.21,"d":-0.15},
{"i":263,"o":1.1940,"h":1.1942,"l":1.1930,"c":1.1932,"a":0.58,"b":0.15,"d":-0.14},
{"i":264,"o":1.1930,"h":1.1932,"l":1.1912,"c":1.1918,"a":0.69,"b":0.10,"d":-0.13}
]},
"vconcat":[
{
"width":598,"height":259,
"resolve":{"axis":{"x":"independent","y":"independent"}},
"layer":[
{"mark":{"type":"rule","strokeWidth":0.9,"opacity":0.75},
 "encoding":{
  "x":{"field":"i","type":"quantitative","title":null,"scale":{"domain":[-0.6,265.4],"nice":false,"zero":false},
       "axis":{"orient":"bottom","labels":false,"ticks":false,"domain":false,"grid":true,"values":[8.0,17.9,27.8,37.8,47.7,57.6,67.5,77.4,87.4,97.3,107.2,117.1,127.0,137.0,146.9,156.8,166.7,176.6,186.6,196.5,206.4,216.3,226.2,236.2,246.1,256.0]}},
  "y":{"field":"l","type":"quantitative","title":null,"scale":{"domain":[1.18324,1.21233],"nice":false,"zero":false},
       "axis":{"orient":"right","grid":true,"format":".5f","labelOverlap":false,"values":[1.1855,1.188,1.1905,1.193,1.1955,1.198,1.2005,1.203,1.2055,1.208,1.2105]}},
  "y2":{"field":"h"},
  "color":{"condition":{"test":"datum.c >= datum.o","value":"#26a69a"},"value":"#ef5350"}}},
{"mark":{"type":"rule","strokeWidth":1.8,"strokeCap":"butt"},
 "encoding":{
  "x":{"field":"i","type":"quantitative","axis":null},
  "y":{"field":"o","type":"quantitative","axis":null},
  "y2":{"field":"c"},
  "color":{"condition":{"test":"datum.c >= datum.o","value":"#26a69a"},"value":"#ef5350"}}},
{"data":{"values":[{}]},"mark":{"type":"rule","color":"#8fd3cb","strokeWidth":1.6},
 "encoding":{"y":{"datum":1.19496,"axis":null}}},
{"data":{"values":[{}]},"mark":{"type":"rect","color":"#26a69a"},
 "encoding":{"x":{"datum":266.6,"axis":null},"x2":{"datum":279.6},"y":{"datum":1.1954,"axis":null},"y2":{"datum":1.19452}}},
{"data":{"values":[{}]},"mark":{"type":"text","text":"1.19496","color":"white","font":"Liberation Sans","fontSize":6.4,"align":"left","baseline":"middle"},
 "encoding":{"x":{"datum":267.2,"axis":null},"y":{"datum":1.19496,"axis":null}}},
{"data":{"values":[{}]},"mark":{"type":"rect","fill":"#ece6f0","stroke":"#9a94b0","strokeWidth":0.6},
 "encoding":{"x":{"datum":-0.4,"axis":null},"x2":{"datum":3.4},"y":{"datum":1.21199,"axis":null},"y2":{"datum":1.21121}}},
{"data":{"values":[{}]},"mark":{"type":"rect","fill":"#3c5fd6"},
 "encoding":{"x":{"datum":4.3,"axis":null},"x2":{"datum":6.3},"y":{"datum":1.21199,"axis":null},"y2":{"datum":1.21121}}},
{"data":{"values":[{}]},"mark":{"type":"rect","fill":"#e05050"},
 "encoding":{"x":{"datum":6.3,"axis":null},"x2":{"datum":8.3},"y":{"datum":1.21199,"axis":null},"y2":{"datum":1.21121}}},
{"data":{"values":[{}]},"mark":{"type":"text","text":"EURUSD, H1:  Euro vs US Dollar","color":"#222","font":"Liberation Sans","fontSize":6.8,"align":"left","baseline":"middle"},
 "encoding":{"x":{"datum":10.5,"axis":null},"y":{"datum":1.21154,"axis":null}}}
]
},
{
"width":598,"height":101,
"resolve":{"axis":{"x":"independent","y":"independent"}},
"layer":[
{"mark":{"type":"rule","strokeWidth":1},
 "encoding":{
  "x":{"field":"i","type":"quantitative","title":null,"scale":{"domain":[-0.6,265.4],"nice":false,"zero":false},
       "axis":{"orient":"bottom","labels":false,"ticks":false,"domain":false,"grid":true,"values":[8.0,17.9,27.8,37.8,47.7,57.6,67.5,77.4,87.4,97.3,107.2,117.1,127.0,137.0,146.9,156.8,166.7,176.6,186.6,196.5,206.4,216.3,226.2,236.2,246.1,256.0]}},
  "y":{"field":"d","type":"quantitative","title":null,"scale":{"domain":[-1.218,1.073],"nice":false,"zero":false},
       "axis":{"orient":"right","grid":false,"format":".4f","labelOverlap":false,"values":[0.9707,0]}},
  "y2":{"datum":0},
  "color":{"condition":{"test":"datum.d >= 0","value":"#4a9a3c"},"value":"#ff5c5c"}}},
{"mark":{"type":"line","color":"#70f0f4","strokeWidth":1},
 "encoding":{"x":{"field":"i","type":"quantitative","axis":null},"y":{"field":"a","type":"quantitative","axis":null}}},
{"mark":{"type":"line","color":"#ffd21a","strokeWidth":2,"interpolate":"monotone"},
 "encoding":{"x":{"field":"i","type":"quantitative","axis":null},"y":{"field":"b","type":"quantitative","axis":null}}},
{"data":{"values":[{}]},"mark":{"type":"text","text":"Forex-trend-reversal-oscillator(20,SMA(4)) 0.6958 0.7250 0.6524 0.0000 -0.0292","color":"#222","font":"Liberation Sans","fontSize":6.4,"align":"left","baseline":"middle"},
 "encoding":{"x":{"datum":-0.6,"axis":null},"y":{"datum":0.914,"axis":null}}},
{"data":{"values":[{}]},"mark":{"type":"text","text":"P","color":"#3d86c6","font":"Liberation Sans","fontWeight":"bold","fontSize":38,"align":"left","baseline":"alphabetic"},
 "encoding":{"x":{"datum":251.2,"axis":null},"y":{"datum":-1.32,"axis":null}}},
{"data":{"values":[{}]},"mark":{"type":"text","text":"rof-F","color":"#2f78bb","font":"Liberation Sans","fontWeight":"bold","fontSize":19,"align":"left","baseline":"alphabetic"},
 "encoding":{"x":{"datum":262.2,"axis":null},"y":{"datum":-1.32,"axis":null}}}
]
}
]
}
